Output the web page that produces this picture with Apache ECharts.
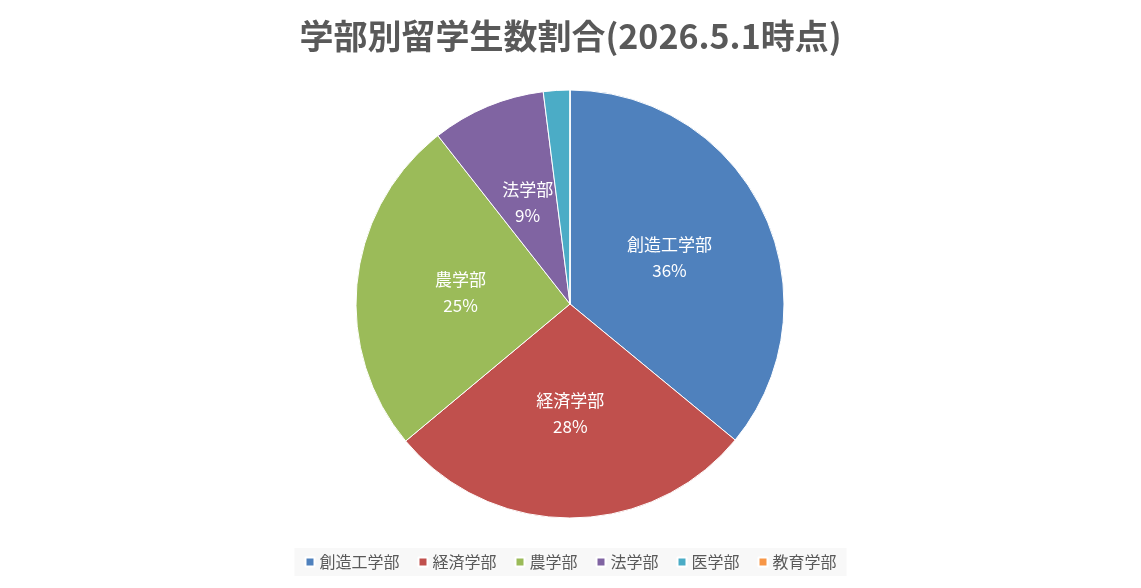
<!DOCTYPE html>
<html><head><meta charset="utf-8">
<script src="https://cdn.jsdelivr.net/npm/echarts@6/dist/echarts.min.js"></script>
<style>html,body{margin:0;padding:0;background:#fff}#c{width:1141px;height:588px}</style>
</head><body><div id="c"></div>
<script>
const categories = ['創造工学部','経済学部','農学部','法学部','医学部','教育学部'];
const values = [36, 28, 25.5, 8.6, 2, 0];
const colors = ['#4f81bd','#c0504d','#9bbb59','#8064a2','#4bacc6','#f79646'];
const F = '"Noto Sans CJK JP", "Noto Sans", sans-serif';
const chart = echarts.init(document.getElementById('c'));
chart.setOption({
  animation: false,
  color: colors,
  title: { text: '学部別留学生数割合(2026.5.1時点)', left: 'center', top: 14,
    textStyle: { fontFamily: F, fontSize: 34, fontWeight: 'bold', color: '#595959' } },
  legend: { bottom: 12, left: 'center', icon: 'rect', itemWidth: 9, itemHeight: 9, itemGap: 18,
    backgroundColor: '#f8f8f8', padding: [6, 10],
    textStyle: { fontFamily: F, fontSize: 16, color: '#595959' }, data: categories },
  series: [{
    type: 'pie', center: [570, 304], radius: [0, 214], startAngle: 90, clockwise: true,
    data: categories.map((n, i) => ({ name: n, value: values[i] })),
    itemStyle: { borderColor: '#fff', borderWidth: 1 },
    label: { position: 'inside', color: '#fff', fontFamily: F, fontSize: 17, lineHeight: 26,
      formatter: p => p.value > 0 ? p.name + '\n' + Math.round(p.percent) + '%' : '' },
    labelLine: { show: false }
  }]
});
</script></body></html>
